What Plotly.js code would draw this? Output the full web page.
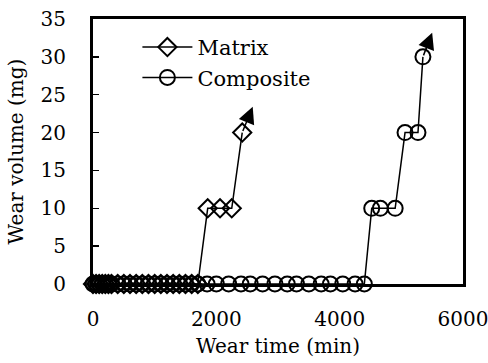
<!DOCTYPE html>
<html>
<head>
<meta charset="utf-8">
<script src="https://cdn.plot.ly/plotly-3.0.1.min.js"></script>
<style>html,body{margin:0;padding:0;background:#fff;}#chart{width:488px;height:363px;}</style>
</head>
<body>
<div id="chart"></div>
<script>
// Matrix series (wear time in min, wear volume in mg)
const matrixTime = [0, 50, 100, 150, 200, 250, 300, 400, 500, 600, 700, 800, 900, 1000, 1100, 1200, 1300, 1400, 1500, 1600, 1700, 1860, 2060, 2250, 2420];
const matrixVolume = [0, 0, 0, 0, 0, 0, 0, 0, 0, 0, 0, 0, 0, 0, 0, 0, 0, 0, 0, 0, 0, 10, 10, 10, 20];
// Composite series
const compositeTime = [0, 50, 100, 150, 200, 250, 300, 400, 500, 600, 700, 800, 900, 1000, 1100, 1200, 1300, 1400, 1500, 1600, 1700, 1850, 2000, 2200, 2400, 2550, 2750, 2950, 3150, 3300, 3500, 3700, 3850, 4050, 4250, 4400, 4520, 4660, 4900, 5060, 5270, 5350];
const compositeVolume = [0, 0, 0, 0, 0, 0, 0, 0, 0, 0, 0, 0, 0, 0, 0, 0, 0, 0, 0, 0, 0, 0, 0, 0, 0, 0, 0, 0, 0, 0, 0, 0, 0, 0, 0, 0, 10, 10, 10, 20, 20, 30];
// Arrow tips marking continuing growth
const arrowTips = {matrix: [2590, 23.4], composite: [5500, 33.2]};
const seriesNames = ["Matrix", "Composite"];
const xTicks = [0, 2000, 4000, 6000];
const yTicks = [0, 5, 10, 15, 20, 25, 30, 35];

const font = {family: "DejaVu Serif", size: 20, color: "#000"};
const legendFont = {family: "DejaVu Serif", size: 21, color: "#000"};

const traces = [
  {x: matrixTime, y: matrixVolume, name: seriesNames[0], mode: "lines+markers", cliponaxis: false,
   line: {color: "#000", width: 1.5},
   marker: {symbol: "diamond-open", size: 14, color: "#000", line: {width: 2, color: "#000"}}},
  {x: compositeTime, y: compositeVolume, name: seriesNames[1], mode: "lines+markers", cliponaxis: false,
   line: {color: "#000", width: 1.5},
   marker: {symbol: "circle-open", size: 15, color: "#000", line: {width: 2, color: "#000"}}}
];

const lastM = matrixTime.length - 1, lastC = compositeTime.length - 1;
const layout = {
  width: 488, height: 363,
  margin: {l: 93, r: 25, t: 19, b: 79},
  paper_bgcolor: "#fff", plot_bgcolor: "#fff",
  font: font,
  showlegend: true,
  legend: {x: 0.12, y: 0.97, xanchor: "left", yanchor: "top", bgcolor: "rgba(0,0,0,0)",
           font: legendFont, itemwidth: 50, tracegroupgap: 0},
  xaxis: {range: [0, 6000], tickvals: xTicks, ticktext: xTicks.map(String),
          showgrid: false, zeroline: false, showline: true, linecolor: "#000", linewidth: 3,
          mirror: true, ticks: "", ticklabelstandoff: 15, ticklabeloverflow: "allow",
          title: {text: "Wear time (min)", font: font, standoff: 9}, tickfont: font},
  yaxis: {range: [0, 35], tickvals: yTicks, ticktext: yTicks.map(String),
          showgrid: false, zeroline: false, showline: true, linecolor: "#000", linewidth: 3,
          mirror: true, ticks: "inside", ticklen: 6, tickwidth: 1.5, tickcolor: "#000",
          ticklabelstandoff: 20,
          title: {text: "Wear volume (mg)", font: font, standoff: 12}, tickfont: font},
  annotations: [
    {x: arrowTips.matrix[0], y: arrowTips.matrix[1], ax: matrixTime[lastM], ay: matrixVolume[lastM],
     xref: "x", yref: "y", axref: "x", ayref: "y", text: "", showarrow: true,
     arrowhead: 2, arrowsize: 2.2, arrowwidth: 1.5, arrowcolor: "#000"},
    {x: arrowTips.composite[0], y: arrowTips.composite[1], ax: compositeTime[lastC], ay: compositeVolume[lastC],
     xref: "x", yref: "y", axref: "x", ayref: "y", text: "", showarrow: true,
     arrowhead: 2, arrowsize: 2.2, arrowwidth: 1.5, arrowcolor: "#000"}
  ]
};

Plotly.newPlot("chart", traces, layout, {displayModeBar: false, staticPlot: true});
</script>
</body>
</html>
